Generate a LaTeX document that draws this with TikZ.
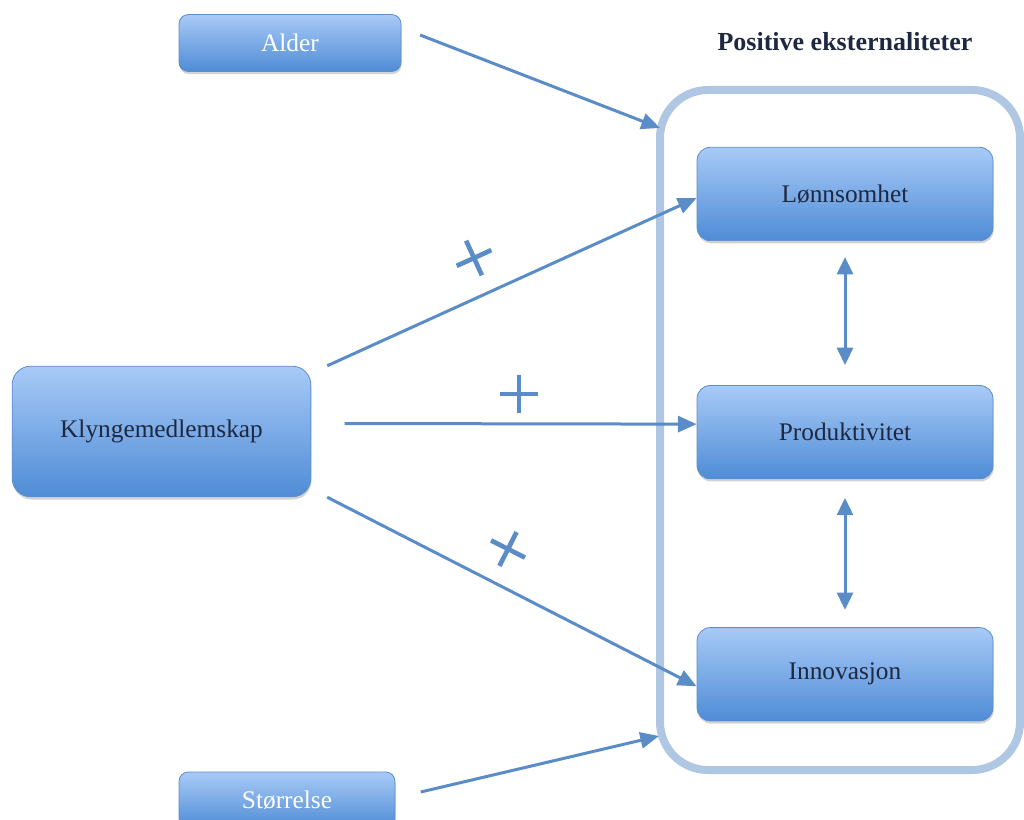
\documentclass[tikz,border=0pt]{standalone}
\usepackage{fontspec}
\setmainfont{Liberation Serif}
\usepackage{tikz}
\usetikzlibrary{positioning,shadows}
\usetikzlibrary{arrows.meta}

\definecolor{boxtop}{HTML}{A8CAF7}
\definecolor{boxbot}{HTML}{4F8CD6}
\definecolor{boxedge}{HTML}{5D8ECC}
\definecolor{arrowblue}{HTML}{5A8CC7}
\definecolor{frameblue}{HTML}{AFC7E2}
\definecolor{navy}{HTML}{1E2840}

\begin{document}
\begin{tikzpicture}[x=0.75pt, y=-0.75pt, node distance={108pt},
    box/.style={rectangle, rounded corners=10pt, draw=boxedge, line width=0.6pt,
      top color=boxtop, bottom color=boxbot, inner sep=0pt,
      drop shadow={opacity=0.35, shadow xshift=0.5pt, shadow yshift=-2pt},
      font=\fontsize{19}{22}\selectfont, text=navy},
    smallbox/.style={box, rounded corners=7pt, text=white},
    sidebox/.style={box, minimum width=222pt, minimum height=70pt},
    frame/.style={rectangle, rounded corners=36pt, draw=frameblue, line width=6pt,
      minimum width=270pt, minimum height=510pt},
    ar/.style={arrowblue, line width=2.25pt, -{Triangle[length=14pt,width=12pt]}},
    dar/.style={arrowblue, line width=2.25pt, {Triangle[length=13pt,width=12pt]}-{Triangle[length=13pt,width=12pt]}},
    plusmark/.style={arrowblue, line width=3.5pt}]
  \useasboundingbox (0,0) rectangle (1024,820);

  \node[frame] (ext) at (840,430) {};
  \node[font=\fontsize{19.5}{22}\selectfont\bfseries, text=navy] (title) at (845,42) {Positive eksternaliteter};

  \node[smallbox, minimum width=166.5pt, minimum height=42.75pt] (alder) at (290,43) {Alder};
  \node[box, rounded corners=14pt, minimum width=224pt, minimum height=98pt] (klynge) at (161.5,431.5) {Klyngemedlemskap};
  \node[smallbox, minimum width=162pt, minimum height=42pt] (storrelse) at (287,800) {Størrelse};

  \node[sidebox] (lonn) at (845,194) {Lønnsomhet};
  \node[sidebox] (prod) [below=of lonn] {Produktivitet};
  \node[sidebox] (innov) [below=111pt of prod] {Innovasjon};

  \coordinate (alderend) at (660,128);
  \coordinate (storend) at (659,736);

  \draw[ar] ([xshift=14pt,yshift=6pt]alder.east) -- (alderend);
  \draw[ar] ([xshift=19pt,yshift=6pt]storrelse.east) -- (storend);
  \draw[ar] ([xshift=12pt]klynge.north east) -- ([yshift=-3pt]lonn.west);
  \draw[ar] ([xshift=25pt,yshift=6pt]klynge.east) -- ([yshift=6pt]prod.west);
  \draw[ar] ([xshift=12pt]klynge.south east) -- ([yshift=-9pt]innov.west);

  \draw[dar, shorten <=12pt, shorten >=15pt] (lonn.south) -- (prod.north);
  \draw[dar, shorten <=14pt, shorten >=13pt] (prod.south) -- (innov.north);

  % plus signs on the arrows
  \draw[plusmark, rotate around={24.5:(474,258)}] (455,258) -- (493,258) (474,239) -- (474,277);
  \draw[plusmark] (500,394) -- (538,394) (519,375) -- (519,413);
  \draw[plusmark, rotate around={-26.7:(508,549)}] (489,549) -- (527,549) (508,530) -- (508,568);
\end{tikzpicture}
\end{document}
